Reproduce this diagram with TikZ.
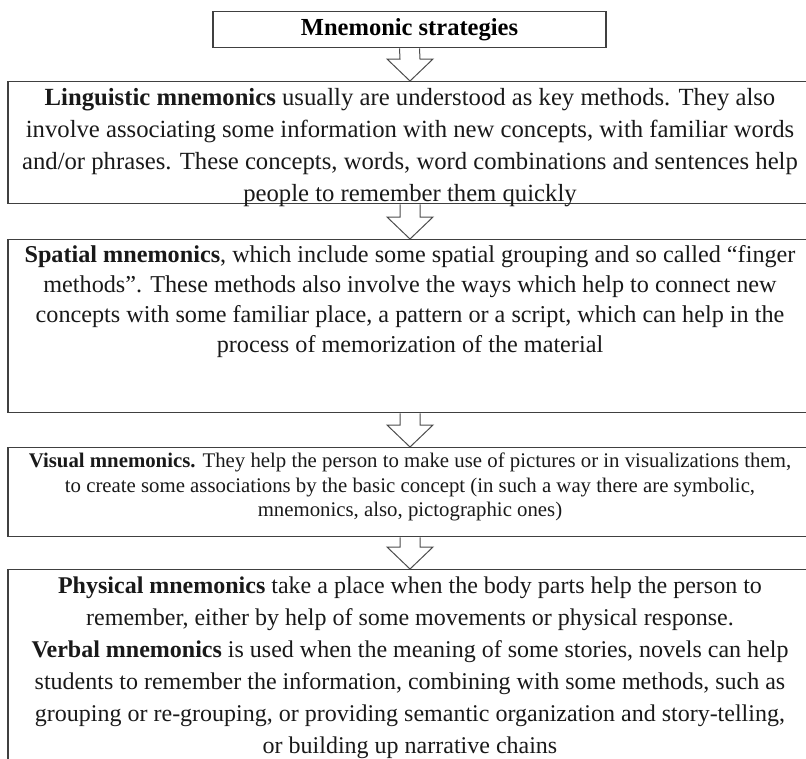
\documentclass[tikz,border=0pt]{standalone}
\usepackage{fontspec}
\setmainfont{Liberation Serif}
\tikzset{
  box/.style={draw=black!75,line width=1.3pt,minimum width=804pt,inner sep=0pt,anchor=north},
  txt/.style={align=center,inner sep=0pt,anchor=north,text=black!90,font=\fontsize{24}{31}\selectfont},
  blk/.style={draw=black!70,line width=1pt,line join=miter}
}
\newcommand\blockarrow[2]{%
  \draw[blk] ([xshift=-10pt]#1.south) -- ([xshift=-10pt,yshift=22pt]#2.north)
    -- ([xshift=-23pt,yshift=22pt]#2.north) -- (#2.north)
    -- ([xshift=23pt,yshift=22pt]#2.north) -- ([xshift=10pt,yshift=22pt]#2.north)
    -- ([xshift=10pt]#1.south);}

\begin{document}
\begin{tikzpicture}[x=1pt,y=-1pt]
\useasboundingbox (0,0) rectangle (806,758);
\clip (0,0) rectangle (806,758);
\node[box,minimum width=393pt,minimum height=36pt,font=\bfseries\fontsize{24.5}{28}\selectfont] (title) at (409.5,11) {Mnemonic strategies};
\node[box,minimum height=122pt] (ling) at (410,81) {};
\node[box,minimum height=173pt] (spat) at (410,239) {};
\node[box,minimum height=89pt] (vis) at (410,447) {};
\node[box,minimum height=200pt] (phys) at (410,569) {};
\node[txt,font=\fontsize{24.7}{32}\selectfont] (ling-txt) at ([yshift=-7pt]ling.north) {\textbf{Linguistic mnemonics} usually are understood as key methods. They also\\
involve associating some information with new concepts, with familiar words\\
and/or phrases. These concepts, words, word combinations and sentences help\\
people to remember them quickly};
\node[txt,font=\fontsize{24.2}{30}\selectfont] (spat-txt) at ([yshift=-6pt]spat.north) {\textbf{Spatial mnemonics}, which include some spatial grouping and so called “finger\\
methods”. These methods also involve the ways which help to connect new\\
concepts with some familiar place, a pattern or a script, which can help in the\\
process of memorization of the material};
\node[txt,font=\fontsize{20.8}{24.5}\selectfont] (vis-txt) at ([yshift=-6pt]vis.north) {\textbf{Visual mnemonics.} They help the person to make use of pictures or in visualizations them,\\
to create some associations by the basic concept (in such a way there are symbolic,\\
mnemonics, also, pictographic ones)};
\node[txt,font=\fontsize{24}{32}\selectfont] (phys-txt) at ([yshift=-8pt]phys.north) {\textbf{Physical mnemonics} take a place when the body parts help the person to\\
remember, either by help of some movements or physical response.\\
\textbf{Verbal mnemonics} is used when the meaning of some stories, novels can help\\
students to remember the information, combining with some methods, such as\\
grouping or re-grouping, or providing semantic organization and story-telling,\\
or building up narrative chains};
\blockarrow{title}{ling}
\blockarrow{ling}{spat}
\blockarrow{spat}{vis}
\blockarrow{vis}{phys}
\end{tikzpicture}
\end{document}
